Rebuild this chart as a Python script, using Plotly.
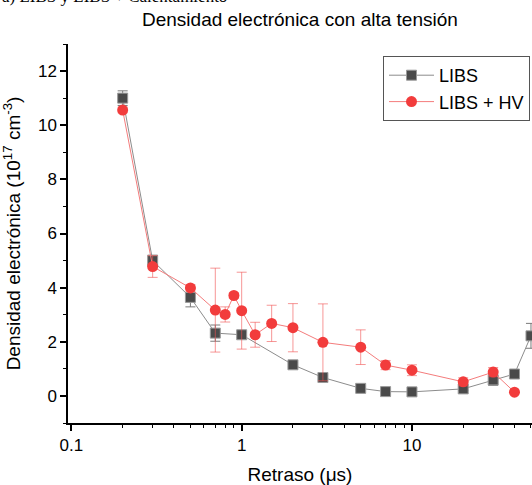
import plotly.graph_objects as go

# ---- data ----
x_libs = [0.2, 0.3, 0.5, 0.7, 1.0, 2.0, 3.0, 5.0, 7.0, 10.0, 20.0, 30.0, 40.0, 50.0]
y_libs = [11.0, 5.0, 3.64, 2.32, 2.26, 1.15, 0.68, 0.28, 0.16, 0.15, 0.26, 0.59, 0.81, 2.22]
e_libs = [0.27, 0.2, 0.35, 0.3, 0.1, 0.08, 0.06, 0.05, 0.04, 0.04, 0.06, 0.2, 0.05, 0.46]

x_hv = [0.2, 0.3, 0.5, 0.7, 0.8, 0.9, 1.0, 1.2, 1.5, 2.0, 3.0, 5.0, 7.0, 10.0, 20.0, 30.0, 40.0]
y_hv = [10.56, 4.78, 3.99, 3.17, 3.01, 3.71, 3.15, 2.26, 2.68, 2.52, 1.98, 1.80, 1.14, 0.95, 0.52, 0.88, 0.14]
e_hv = [0.1, 0.4, 0.12, 1.55, 0.28, 0.1, 1.42, 0.46, 0.67, 0.89, 1.42, 0.64, 0.17, 0.2, 0.15, 0.17, 0.0]

x_major = [0.1, 1, 10]
x_minor = [0.2, 0.3, 0.4, 0.5, 0.6, 0.7, 0.8, 0.9, 2, 3, 4, 5, 6, 7, 8, 9, 20, 30, 40, 50]

title = "Densidad electrónica con alta tensión"
xtitle = "Retraso (μs)"
ytitle = "Densidad electrónica (10<sup>17</sup> cm<sup>-3</sup>)"
header = "a) LIBS y LIBS + Calentamiento"

W, H = 532, 485
ml, mr, mt, mb = 68, 0, 44, 62
FONT = "Liberation Sans, Arial"

fig = go.Figure()
fig.add_trace(go.Scatter(
    x=x_libs, y=y_libs, name="LIBS", mode="lines+markers",
    line=dict(color="#8c8c8c", width=1),
    marker=dict(symbol="square", size=10, color="#4a4a4a",
                line=dict(color="#9a9a9a", width=1)),
    error_y=dict(type="data", array=e_libs, color="#7a7a7a", thickness=1, width=5),
))
fig.add_trace(go.Scatter(
    x=x_hv, y=y_hv, name="LIBS + HV", mode="lines+markers",
    line=dict(color="#f47c7c", width=1),
    marker=dict(symbol="circle", size=11, color="#f23c3c",
                line=dict(color="#f23c3c", width=0)),
    error_y=dict(type="data", array=e_hv, color="rgba(240,80,80,0.6)", thickness=1, width=5),
))

axis_common = dict(
    showline=True, linecolor="black", linewidth=1.5,
    ticks="outside", tickcolor="black", tickwidth=1.5, ticklen=6,
    showgrid=False, zeroline=False, mirror=False,
    tickfont=dict(family=FONT, size=17, color="black"),
)

fig.update_xaxes(
    type="log", range=[-1.02, 1.705],
    tickvals=x_major, ticktext=["0.1", "1", "10"],
    minor=dict(tickvals=x_minor, ticklen=3, tickcolor="black", tickwidth=1.2, ticks="outside"),
    title=dict(text=xtitle, font=dict(family=FONT, size=19, color="black"), standoff=16),
    **axis_common,
)
fig.update_yaxes(
    range=[-1, 13], tickvals=[0, 2, 4, 6, 8, 10, 12],
    minor=dict(dtick=1, tick0=0, ticklen=3, tickcolor="black", tickwidth=1.2, ticks="outside"),
    title=dict(text=ytitle, font=dict(family=FONT, size=19, color="black"), standoff=14),
    **axis_common,
)

fig.update_layout(
    width=W, height=H,
    margin=dict(l=ml, r=mr, t=mt, b=mb, pad=0),
    paper_bgcolor="white", plot_bgcolor="white",
    showlegend=True,
    legend=dict(
        x=(530 - ml) / (W - ml - mr), y=(H - mb - 56) / (H - mt - mb),
        xanchor="right", yanchor="top",
        bordercolor="#555555", borderwidth=1, bgcolor="white",
        font=dict(family=FONT, size=18, color="black"),
        tracegroupgap=0, itemsizing="trace", itemwidth=45,
    ),
    annotations=[
        dict(text=title, xref="paper", yref="paper", x=0.5, y=1,
             yshift=12, xanchor="center", yanchor="bottom", showarrow=False,
             font=dict(family=FONT, size=19, color="black")),
        dict(text=header, xref="paper", yref="paper", x=-ml / (W - ml - mr), y=1,
             yshift=mt - 8, xanchor="left", yanchor="bottom", showarrow=False,
             font=dict(family="Liberation Serif, Times New Roman", size=17, color="black")),
    ],
)

fig.write_html("out.html")
